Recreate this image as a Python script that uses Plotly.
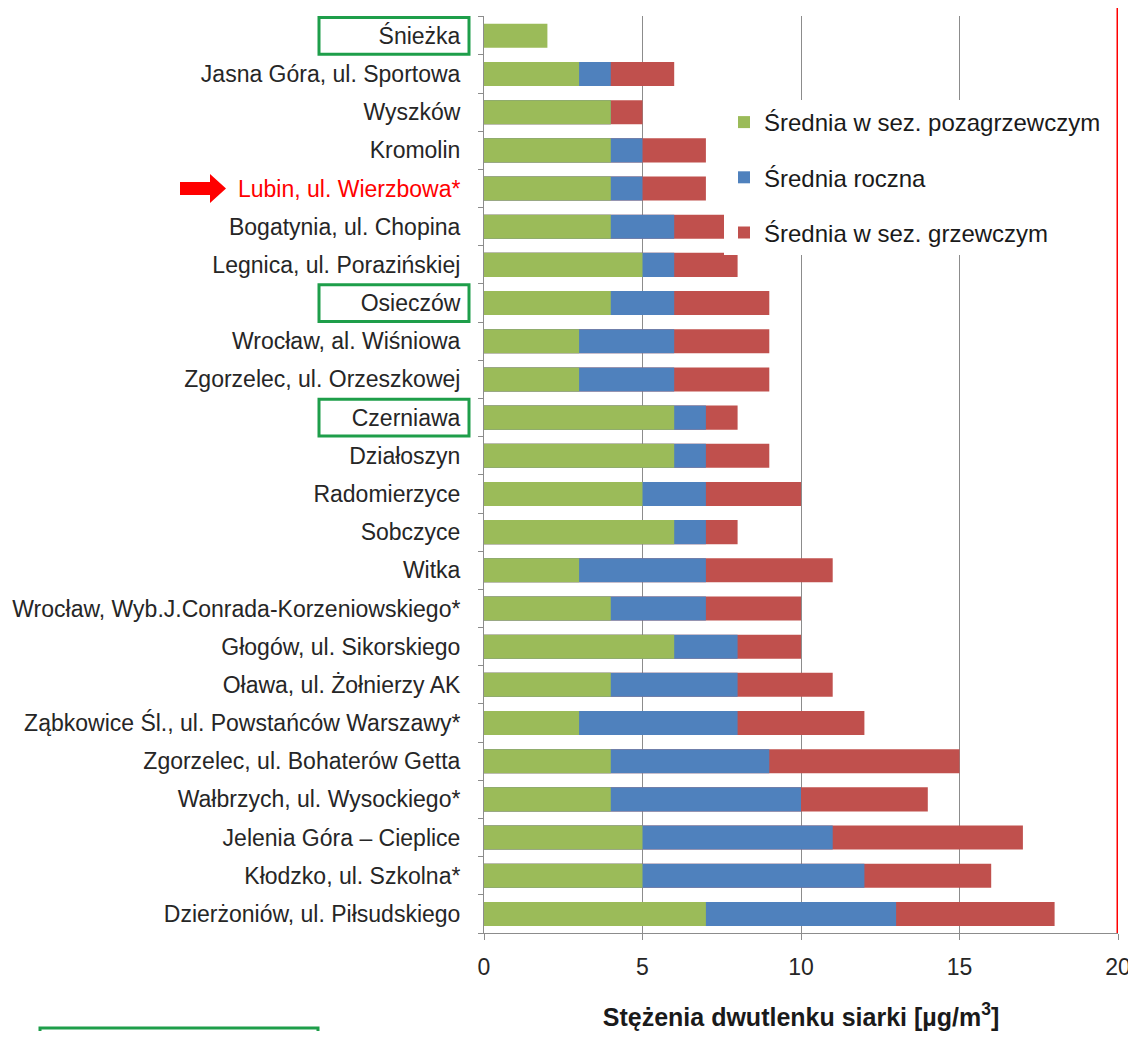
import plotly.graph_objects as go

stations = [
    "Śnieżka", "Jasna Góra, ul. Sportowa", "Wyszków", "Kromolin",
    "Lubin, ul. Wierzbowa*", "Bogatynia, ul. Chopina", "Legnica, ul. Porazińskiej",
    "Osieczów", "Wrocław, al. Wiśniowa", "Zgorzelec, ul. Orzeszkowej", "Czerniawa",
    "Działoszyn", "Radomierzyce", "Sobczyce", "Witka",
    "Wrocław, Wyb.J.Conrada-Korzeniowskiego*", "Głogów, ul. Sikorskiego",
    "Oława, ul. Żołnierzy AK", "Ząbkowice Śl., ul. Powstańców Warszawy*",
    "Zgorzelec, ul. Bohaterów Getta", "Wałbrzych, ul. Wysockiego*",
    "Jelenia Góra – Cieplice", "Kłodzko, ul. Szkolna*", "Dzierżoniów, ul. Piłsudskiego",
]
non_heating = [2, 3, 4, 4, 4, 4, 5, 4, 3, 3, 6, 6, 5, 6, 3, 4, 6, 4, 3, 4, 4, 5, 5, 7]
annual = [None, 4, 4, 5, 5, 6, 6, 6, 6, 6, 7, 7, 7, 7, 7, 7, 8, 8, 8, 9, 10, 11, 12, 13]
heating = [None, 6, 5, 7, 7, 8, 8, 9, 9, 9, 8, 9, 10, 8, 11, 10, 10, 11, 12, 15, 14, 17, 16, 18]
x_ticks = [0, 5, 10, 15, 20]
highlight_red = "Lubin, ul. Wierzbowa*"
boxed = ["Śnieżka", "Osieczów", "Czerniawa"]
limit_value = 20

FONT = "Liberation Sans, Arial, sans-serif"

ticktext = [f'<span style="color:#FF0000">{s}</span>' if s == highlight_red else s for s in stations]

fig = go.Figure()
fig.add_trace(go.Bar(y=stations, x=heating, orientation="h", name="Średnia w sez. grzewczym",
                     marker=dict(color="#C0504D", line=dict(width=0)), legendgroup="c", legendrank=3))
fig.add_trace(go.Bar(y=stations, x=annual, orientation="h", name="Średnia roczna",
                     marker=dict(color="#4F81BD", line=dict(width=0)), legendgroup="b", legendrank=2))
fig.add_trace(go.Bar(y=stations, x=non_heating, orientation="h", name="Średnia w sez. pozagrzewczym",
                     marker=dict(color="#9BBB59", line=dict(width=0)), legendgroup="a", legendrank=1))

# page offset of the figure (body margin); keep total page height within the window
OFF = 8
W, H = 1136 - OFF, 1039 - 2 * OFF
plot_left, plot_right, plot_top, plot_bottom = 484, 1118, 16, 933  # page pixels
L, R, T = plot_left - OFF, 1136 - plot_right, plot_top - OFF
B = H - (plot_bottom - OFF)
pw = plot_right - plot_left
ph = plot_bottom - plot_top

def px2paper(px):
    return (px - plot_left) / pw

def py2paper(py):
    return (plot_bottom - py) / ph

shapes = []
shapes.append(dict(type="line", xref="x", yref="paper", x0=limit_value, x1=limit_value,
                   y0=0, y1=py2paper(8), line=dict(color="#FF0000", width=3)))
for name in boxed:
    i = stations.index(name)
    shapes.append(dict(type="rect", xref="paper", yref="y", x0=px2paper(319), x1=px2paper(469),
                       y0=i - 0.48, y1=i + 0.48, line=dict(color="#1E9E4A", width=3)))
i = stations.index(highlight_red)
xa, xb, xc = px2paper(180), px2paper(210), px2paper(226)
shapes.append(dict(type="path", xref="paper", yref="y",
                   path=f"M {xa},{i-0.17} L {xb},{i-0.17} L {xb},{i-0.38} L {xc},{i} L {xb},{i+0.38} L {xb},{i+0.17} L {xa},{i+0.17} Z",
                   fillcolor="#FF0000", line=dict(width=0)))
shapes.append(dict(type="rect", xref="paper", yref="paper", x0=px2paper(40), x1=px2paper(318),
                   y0=py2paper(1060), y1=py2paper(1028), line=dict(color="#1E9E4A", width=3)))

fig.update_layout(
    width=W, height=H,
    margin=dict(l=L, r=R, t=T, b=B, autoexpand=False),
    barmode="overlay", bargap=0.37,
    plot_bgcolor="white", paper_bgcolor="white",
    font=dict(family=FONT, color="#262626"),
    showlegend=True,
    legend=dict(x=px2paper(724), y=py2paper(100), xanchor="left", yanchor="top",
                bgcolor="white", font=dict(size=24, color="#1a1a1a", family=FONT),
                traceorder="grouped", tracegroupgap=21, itemwidth=30),
    shapes=shapes,
    xaxis=dict(range=[0, limit_value], tickvals=x_ticks, showgrid=True, gridcolor="#8c8c8c", gridwidth=1,
               zeroline=False, showline=True, linecolor="#8c8c8c", ticks="outside", ticklen=6,
               tickcolor="#8c8c8c", tickfont=dict(size=23), ticklabelstandoff=7,
               title=dict(text="<b>Stężenia dwutlenku siarki [µg/m<sup>3</sup>]</b>",
                          font=dict(size=25, color="#1a1a1a"), standoff=38)),
    yaxis=dict(autorange="reversed", tickmode="array", tickvals=stations, ticktext=ticktext,
               showline=True, linecolor="#8c8c8c", ticks="outside", ticklen=5, tickcolor="#8c8c8c",
               tickson="boundaries", showgrid=False, tickfont=dict(size=23, color="#262626"),
               ticklabelstandoff=18),
)

fig.write_html("out.html")
